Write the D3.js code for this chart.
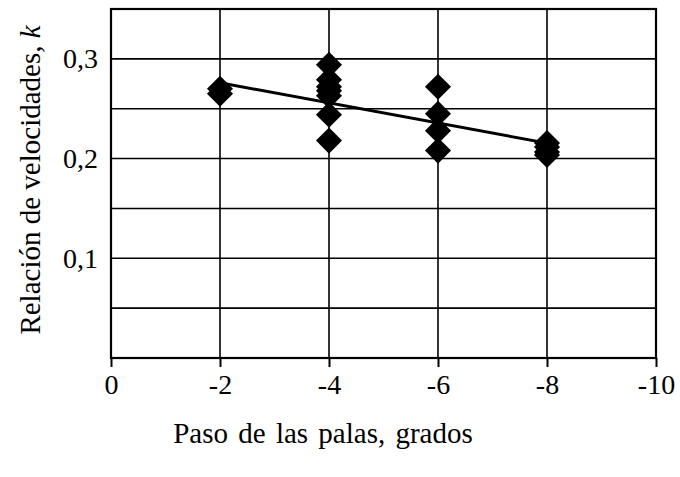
<!DOCTYPE html>
<html>
<head>
<meta charset="utf-8">
<script src="https://cdn.jsdelivr.net/npm/d3@7"></script>
<style>
  html, body { margin: 0; padding: 0; background: #fff; }
  svg { display: block; }
</style>
</head>
<body>
<svg id="chart" width="680" height="477"></svg>
<script>
// Blade pitch (degrees) and measured speed ratio k
const pitch = [-2, -2,
  -4, -4, -4, -4, -4, -4, -4,
  -6, -6, -6, -6,
  -8, -8, -8, -8];
const ratio = [0.265, 0.270,
  0.294, 0.279, 0.272, 0.268, 0.263, 0.244, 0.218,
  0.272, 0.245, 0.228, 0.208,
  0.2155, 0.2115, 0.2065, 0.2035];

// Fitted trend line endpoints
const trendX = [-2, -8];
const trendY = [0.276, 0.2155];

const xTicks = [0, -2, -4, -6, -8, -10];
const yGrid = [0.05, 0.1, 0.15, 0.2, 0.25, 0.3];
const yLabels = [0.1, 0.2, 0.3];

const FONT = "'Liberation Serif', 'Times New Roman', serif";

const svg = d3.select("#chart");
const plotL = 111, plotR = 656, plotT = 9, plotB = 358;

const x = d3.scaleLinear().domain([0, -10]).range([plotL, plotR]);
const y = d3.scaleLinear().domain([0, 0.35]).range([plotB, plotT]);

// grid
const g = svg.append("g");
g.selectAll("line.h").data(yGrid).join("line")
  .attr("x1", plotL).attr("x2", plotR)
  .attr("y1", d => y(d)).attr("y2", d => y(d))
  .attr("stroke", "#000").attr("stroke-width", 1.6);
g.selectAll("line.v").data(xTicks.slice(1, -1)).join("line")
  .attr("x1", d => x(d)).attr("x2", d => x(d))
  .attr("y1", plotT).attr("y2", plotB)
  .attr("stroke", "#000").attr("stroke-width", 1.6);

// plot frame
svg.append("rect")
  .attr("x", plotL).attr("y", plotT)
  .attr("width", plotR - plotL).attr("height", plotB - plotT)
  .attr("fill", "none").attr("stroke", "#000").attr("stroke-width", 2.2);

// x axis with outward ticks
const xAxis = d3.axisBottom(x).tickValues(xTicks).tickSize(9).tickPadding(7)
  .tickFormat(d => d === 0 ? "0" : "-" + Math.abs(d));
const xa = svg.append("g").attr("transform", `translate(0,${plotB})`).call(xAxis);
xa.attr("font-family", null).attr("font-size", null);
xa.select(".domain").remove();
xa.selectAll(".tick line").attr("stroke", "#000").attr("stroke-width", 2);
xa.selectAll(".tick text")
  .style("font-family", FONT).style("font-size", "28px").attr("fill", "#000");

// y axis labels
const yAxis = d3.axisLeft(y).tickValues(yLabels).tickSize(0).tickPadding(13)
  .tickFormat(d => d3.format(".1f")(d).replace(".", ","));
const ya = svg.append("g").attr("transform", `translate(${plotL},0)`).call(yAxis);
ya.attr("font-family", null).attr("font-size", null);
ya.select(".domain").remove();
ya.selectAll(".tick text")
  .style("font-family", FONT).style("font-size", "28px").attr("fill", "#000");

// trend line
const line = d3.line().x(d => x(d[0])).y(d => y(d[1]));
svg.append("path")
  .datum(trendX.map((v, i) => [v, trendY[i]]))
  .attr("d", line)
  .attr("fill", "none").attr("stroke", "#000").attr("stroke-width", 3);

// diamond markers
const sym = d3.symbol().type(d3.symbolSquare).size(340);
svg.append("g").selectAll("path").data(pitch.map((p, i) => [p, ratio[i]])).join("path")
  .attr("d", sym)
  .attr("transform", d => `translate(${x(d[0])},${y(d[1])}) rotate(45)`)
  .attr("fill", "#000");

// axis titles
svg.append("text")
  .attr("x", 323).attr("y", 443)
  .attr("text-anchor", "middle")
  .style("font-family", FONT).style("font-size", "29px").style("word-spacing", "3px")
  .attr("fill", "#000")
  .text("Paso de las palas, grados");

const yt = svg.append("text")
  .attr("transform", "translate(40,180) rotate(-90)")
  .attr("text-anchor", "middle")
  .style("font-family", FONT).style("font-size", "29px").attr("fill", "#000");
yt.append("tspan").text("Relación de velocidades, ");
yt.append("tspan").attr("font-style", "italic").text("k");
</script>
</body>
</html>
